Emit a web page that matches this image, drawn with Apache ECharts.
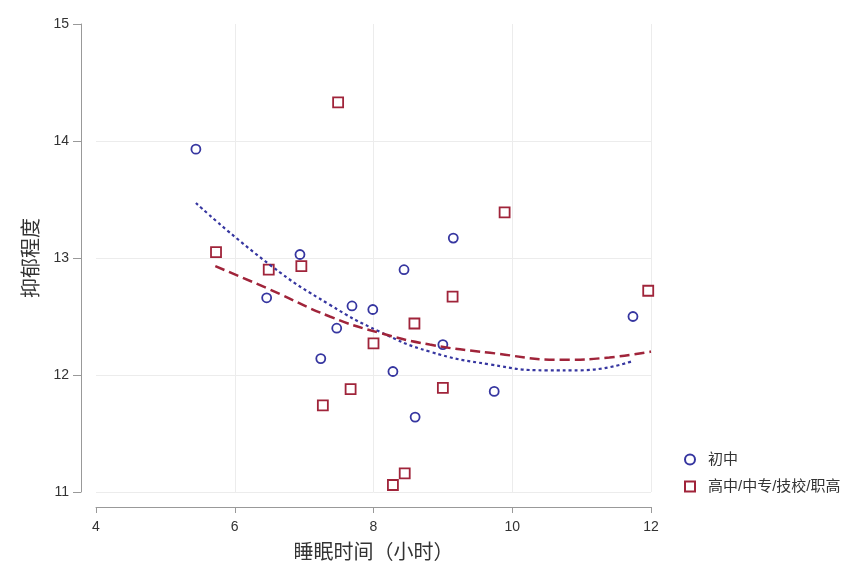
<!DOCTYPE html>
<html>
<head>
<meta charset="utf-8">
<script src="https://cdn.jsdelivr.net/npm/echarts@6/dist/echarts.min.js"></script>
<style>
  html, body { margin: 0; padding: 0; background: #fff; }
  #chart { width: 852px; height: 566px; }
</style>
</head>
<body>
<div id="chart"></div>
<script>
// 散点：初中
const juniorPoints = [
  [5.44, 13.93], [6.46, 12.66], [6.94, 13.03], [7.24, 12.14], [7.47, 12.40],
  [7.69, 12.59], [7.99, 12.56], [8.28, 12.03], [8.44, 12.90], [8.60, 11.64],
  [9.00, 12.26], [9.15, 13.17], [9.74, 11.86], [11.74, 12.50]
]
// 散点：高中/中专/技校/职高
const seniorPoints = [
  [5.73, 13.05], [6.49, 12.90], [6.96, 12.93], [7.49, 14.33], [7.27, 11.74],
  [7.67, 11.88], [8.00, 12.27], [8.28, 11.06], [8.45, 11.16], [8.59, 12.44],
  [9.00, 11.89], [9.14, 12.67], [9.89, 13.39], [11.96, 12.72]
]
// 拟合曲线
const juniorFit = [
  [5.44, 13.47], [6.51, 12.94], [7.37, 12.60], [8.09, 12.37], [8.81, 12.20],
  [9.68, 12.09], [10.50, 12.04], [10.98, 12.04], [11.74, 12.12]
]
const seniorFit = [
  [5.72, 12.93], [6.51, 12.73], [7.37, 12.50], [8.09, 12.36], [8.81, 12.26],
  [9.68, 12.19], [10.73, 12.13], [11.40, 12.15], [12.00, 12.20]
]
const legendNames = ['初中', '高中/中专/技校/职高']

const BLUE = '#3636a0'
const RED = '#a0243a'
const FONT = '"Liberation Sans", "Noto Sans CJK SC", sans-serif'

const chart = echarts.init(document.getElementById('chart'))
const option = {
  backgroundColor: '#fff',
  animation: false,
  textStyle: { fontFamily: FONT },
  grid: { left: 96, right: 201, top: 24, bottom: 74, outerBoundsMode: 'none' },
  legend: {
    data: legendNames,
    orient: 'vertical',
    left: 679,
    top: 447,
    itemWidth: 10,
    itemHeight: 10,
    itemGap: 12,
    textStyle: { fontSize: 15, color: '#333', fontFamily: FONT, padding: [0, 0, 0, 8] }
  },
  xAxis: {
    type: 'value',
    min: 4,
    max: 12,
    interval: 2,
    offset: 15,
    name: '睡眠时间（小时）',
    nameLocation: 'middle',
    nameGap: 36,
    nameTextStyle: { fontSize: 20, color: '#333', fontFamily: FONT },
    axisLine: { show: true, lineStyle: { color: '#999', width: 1 } },
    axisTick: { show: true, length: 6, lineStyle: { color: '#999' } },
    axisLabel: { fontSize: 14, color: '#333', margin: 13 },
    splitLine: { show: true, showMinLine: false, lineStyle: { color: '#ececec', width: 1 } }
  },
  yAxis: {
    type: 'value',
    min: 11,
    max: 15,
    interval: 1,
    offset: 15,
    name: '抑郁程度',
    nameLocation: 'middle',
    nameGap: 34,
    nameTextStyle: { fontSize: 20, color: '#333', fontFamily: FONT },
    axisLine: { show: true, lineStyle: { color: '#999', width: 1 } },
    axisTick: { show: true, length: 8, lineStyle: { color: '#999' } },
    axisLabel: { fontSize: 14, color: '#333', margin: 12 },
    splitLine: { show: true, showMaxLine: false, lineStyle: { color: '#ececec', width: 1 } }
  },
  series: [
    {
      name: legendNames[0],
      type: 'scatter',
      data: juniorPoints,
      symbol: 'circle',
      symbolSize: 9,
      itemStyle: { color: '#fff', borderColor: BLUE, borderWidth: 1.8, opacity: 1 }
    },
    {
      name: legendNames[1],
      type: 'scatter',
      data: seniorPoints,
      symbol: 'rect',
      symbolSize: 10,
      itemStyle: { color: '#fff', borderColor: RED, borderWidth: 1.8, opacity: 1 }
    },
    {
      name: '初中拟合',
      type: 'line',
      data: juniorFit,
      smooth: true,
      showSymbol: false,
      z: 3,
      lineStyle: { color: BLUE, width: 2.2, type: [3, 3] }
    },
    {
      name: '高中拟合',
      type: 'line',
      data: seniorFit,
      smooth: true,
      showSymbol: false,
      z: 3,
      lineStyle: { color: RED, width: 2.5, type: [10, 5] }
    }
  ]
}
chart.setOption(option)
</script>
</body>
</html>
